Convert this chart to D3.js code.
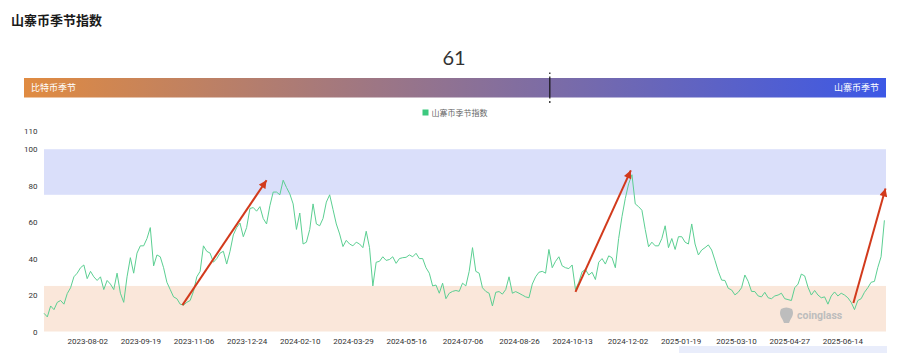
<!DOCTYPE html>
<html>
<head>
<meta charset="utf-8">
<script src="https://cdn.jsdelivr.net/npm/d3@7"></script>
<style>
  html, body { margin: 0; padding: 0; background: #fff; }
  svg { display: block; font-family: "Noto Sans CJK SC", "Noto Sans", sans-serif; }
</style>
</head>
<body>
<svg id="chart" width="900" height="353"></svg>
<script>
// one reading every 3 days, starting at startDate
const startDate = "2023-06-24";
const stepDays = 3;
const altIndex = [
  10, 8, 14, 12, 16, 17, 15, 20.8, 24, 30,
  32, 35, 36.5, 29, 33, 30, 28, 30, 23, 28,
  26, 23, 32, 21, 16, 30, 40.5, 32, 43, 47,
  47, 51, 57, 36, 42, 41, 35, 27, 23, 19,
  18, 15, 14.5, 16, 17, 22, 30, 33, 47, 44,
  43, 38, 40, 43, 44, 37, 44, 53, 57, 59.5,
  52, 57, 67.5, 68, 66, 68.5, 62, 59, 69, 76.5,
  76.5, 75, 83, 79, 75.5, 70, 56, 65, 48, 49,
  56, 70, 59, 58, 62, 71, 75, 67, 59, 53.5,
  46.6, 50, 48, 47, 49, 48, 46, 55, 46, 25,
  38, 38.5, 41, 39, 39.5, 41, 37.4, 40, 40.5, 40.7,
  42, 41, 42.9, 40, 40, 35, 32, 25, 25.5, 21,
  26.5, 18, 21, 22, 22.5, 22, 26.5, 25, 33, 46,
  33, 32, 24, 22, 21, 14, 21.5, 21.9, 20.5, 23,
  30, 21, 21.9, 21, 20, 19, 18.5, 26, 30, 32.5,
  33, 32, 45, 35, 38.5, 41, 36, 35, 34.5, 36.5,
  23, 27, 32.8, 34, 31, 32.5, 28.5, 38, 40, 37,
  41.5, 40.5, 35, 51, 63, 73, 81, 86, 70, 68.5,
  66.5, 56, 46.5, 49, 47, 47, 51, 58, 46, 51,
  45, 52, 52, 49, 48, 59, 48, 42, 44.7, 46,
  47.5, 44.7, 39, 33, 28.2, 28, 23.7, 22.8, 20.1, 21.5,
  24, 31, 27.5, 22, 21.9, 19.5, 19, 21.5, 18.5, 18,
  19.5, 20, 21, 18, 17.5, 17, 24, 26, 31.5, 30.5,
  24.3, 20, 22.5, 20, 18.5, 19, 15, 19.5, 21.7, 19.5,
  21, 20, 18.5, 16, 12, 17, 18, 21.5, 24, 27,
  27.5, 35, 41, 61
];
const currentIndex = 61;

const xTickLabels = [
  "2023-08-02", "2023-09-19", "2023-11-06", "2023-12-24", "2024-02-10",
  "2024-03-29", "2024-05-16", "2024-07-06", "2024-08-26", "2024-10-13",
  "2024-12-02", "2025-01-19", "2025-03-10", "2025-04-27", "2025-06-14"
];
const yTickValues = [0, 20, 40, 60, 80, 100, 110];

// season zones
const bitcoinSeasonTop = 25;
const altSeasonBottom = 75;
const altSeasonTop = 100;

// hand-drawn red arrows
const arrowStartDates = ["2023-10-27", "2024-10-16", "2025-06-24"];
const arrowStartValues = [14.5, 21.7, 15.6];
const arrowEndDates = ["2024-01-11", "2024-12-05", "2025-07-23"];
const arrowEndValues = [83, 88.4, 78.5];

const svg = d3.select("#chart");
const parse = d3.utcParse("%Y-%m-%d");
const t0 = parse(startDate);

const x = d3.scaleUtc()
  .domain([t0, d3.utcDay.offset(t0, 760)])
  .range([44, 885.5]);
const y = d3.scaleLinear().domain([0, 110]).range([331.5, 131]);

// title
svg.append("text")
  .attr("x", 11).attr("y", 24.5)
  .style("font-size", "13px").style("font-weight", "700")
  .style("fill", "#1a1a1a")
  .text("山寨币季节指数");

// gauge bar
const gauge = d3.scaleLinear().domain([0, 100]).range([24, 886]);
const defs = svg.append("defs");
const grad = defs.append("linearGradient").attr("id", "seasonGrad");
grad.append("stop").attr("offset", "0%").attr("stop-color", "#e08b41");
grad.append("stop").attr("offset", "100%").attr("stop-color", "#3c58e6");

svg.append("rect")
  .attr("x", gauge(0)).attr("y", 78)
  .attr("width", gauge(100) - gauge(0)).attr("height", 19.5)
  .attr("fill", "url(#seasonGrad)");

svg.append("text")
  .attr("x", 31).attr("y", 91.3)
  .style("font-size", "9px").style("fill", "#fff")
  .text("比特币季节");
svg.append("text")
  .attr("x", 879).attr("y", 91.3)
  .attr("text-anchor", "end")
  .style("font-size", "9px").style("fill", "#fff")
  .text("山寨币季节");

svg.append("line")
  .attr("x1", gauge(currentIndex)).attr("x2", gauge(currentIndex))
  .attr("y1", 72.5).attr("y2", 103)
  .attr("stroke", "#111").attr("stroke-width", 1.2)
  .attr("stroke-dasharray", "1.5 2.5 22 2.5 2");

svg.append("text")
  .attr("x", (gauge(0) + gauge(100)) / 2 - 1).attr("y", 64.5)
  .attr("text-anchor", "middle")
  .style("font-family", "Lato, 'Noto Sans', sans-serif")
  .style("font-size", "20px").style("fill", "#333")
  .text(currentIndex);

// legend
svg.append("rect")
  .attr("x", 422.5).attr("y", 109.5).attr("width", 6).attr("height", 6)
  .attr("fill", "#3cc97f");
svg.append("text")
  .attr("x", 431.5).attr("y", 115.5)
  .style("font-size", "8px").style("fill", "#666")
  .text("山寨币季节指数");

// zones
const xLeft = 44, xRight = 886;
svg.append("rect")
  .attr("x", xLeft).attr("width", xRight - xLeft)
  .attr("y", y(altSeasonTop)).attr("height", y(altSeasonBottom) - y(altSeasonTop))
  .attr("fill", "#dadffa");
svg.append("rect")
  .attr("x", xLeft).attr("width", xRight - xLeft)
  .attr("y", y(bitcoinSeasonTop)).attr("height", y(0) - y(bitcoinSeasonTop))
  .attr("fill", "#fae7da");

// watermark
const wm = svg.append("g").attr("fill", "#bdbdbd");
wm.append("path")
  .attr("d", "M781,309 q5,-3 11,0 q2,4 0,8 q-2,3 -3,6 l-5,0 q-1,-3 -3,-6 q-2,-4 0,-8 z");
wm.append("text")
  .attr("x", 797).attr("y", 319)
  .style("font-family", "Roboto, 'Noto Sans', sans-serif")
  .style("font-size", "10.5px").style("font-weight", "700")
  .text("coinglass");

// axes
const yAxis = svg.append("g")
  .attr("transform", `translate(${xLeft},0)`)
  .call(d3.axisLeft(y).tickValues(yTickValues).tickSize(0).tickPadding(6.5));
yAxis.select(".domain").remove();

const xAxis = svg.append("g")
  .attr("transform", `translate(0,${y(0)})`)
  .call(d3.axisBottom(x)
    .tickValues(xTickLabels.map(parse))
    .tickFormat(d3.utcFormat("%Y-%m-%d"))
    .tickSize(0).tickPadding(6.5));
xAxis.select(".domain").remove();

svg.selectAll(".tick text")
  .style("font-family", "Roboto, 'Noto Sans', sans-serif")
  .style("font-size", "8px")
  .style("fill", "#333");

// index line
const line = d3.line()
  .x((d, i) => x(d3.utcDay.offset(t0, i * stepDays)))
  .y(d => y(d));

svg.append("path")
  .datum(altIndex)
  .attr("fill", "none")
  .attr("stroke", "#5bcf92")
  .attr("stroke-width", 1)
  .attr("stroke-linejoin", "round")
  .attr("d", line);

// arrows
defs.append("marker")
  .attr("id", "arrowHead")
  .attr("viewBox", "0 0 10 10")
  .attr("refX", 10).attr("refY", 5)
  .attr("markerWidth", 9).attr("markerHeight", 8)
  .attr("markerUnits", "userSpaceOnUse")
  .attr("orient", "auto")
  .append("path")
  .attr("d", "M0,0 L10,5 L0,10 z")
  .attr("fill", "#d23a1c");

arrowStartDates.forEach((d, i) => {
  const x1 = x(parse(d)), y1 = y(arrowStartValues[i]);
  const x2 = x(parse(arrowEndDates[i])), y2 = y(arrowEndValues[i]);
  svg.append("line")
    .attr("x1", x1).attr("y1", y1)
    .attr("x2", x2).attr("y2", y2)
    .attr("stroke", "#d23a1c")
    .attr("stroke-width", 2)
    .attr("marker-end", "url(#arrowHead)");
});

// slider strip peeking in at the bottom
svg.append("rect")
  .attr("x", 679).attr("y", 346).attr("width", 208).attr("height", 10)
  .attr("fill", "#e9edfb");
</script>
</body>
</html>
